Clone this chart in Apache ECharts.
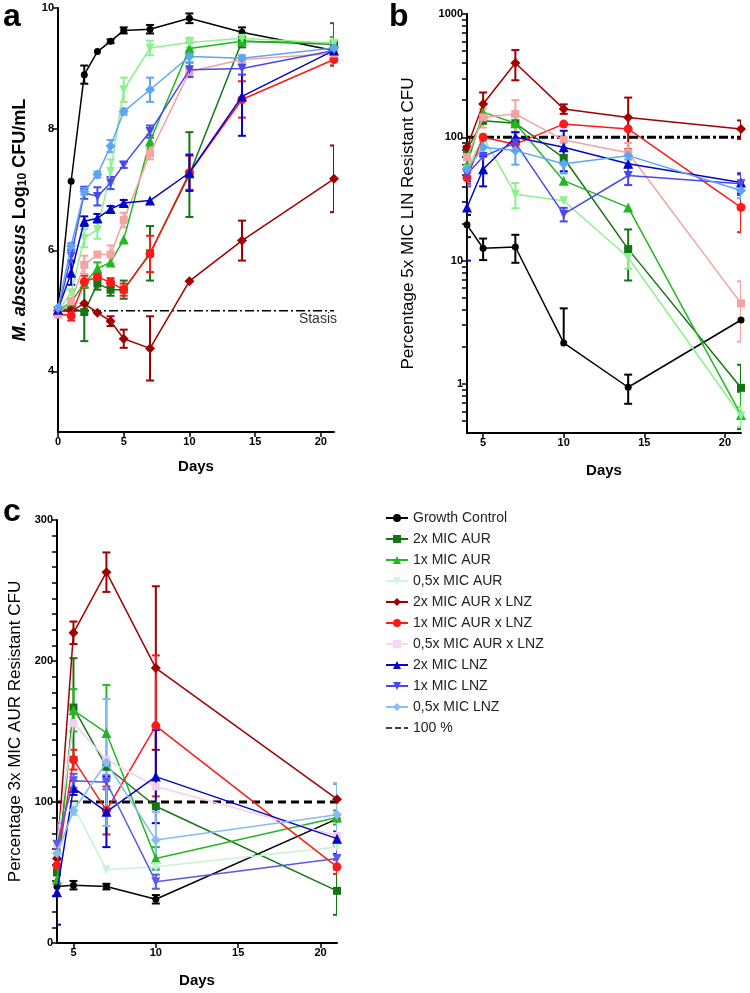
<!DOCTYPE html>
<html><head><meta charset="utf-8">
<script src="https://cdn.jsdelivr.net/npm/echarts@6/dist/echarts.min.js"></script>
<style>html,body{margin:0;padding:0;background:#fff}#c{width:750px;height:993px}</style>
</head><body><div id="c"></div>
<script>
// ---------- categories / names ----------
const seriesNames = ['Growth Control','2x MIC AUR','1x MIC AUR','0,5x MIC AUR','2x MIC AUR x LNZ','1x MIC AUR x LNZ','0,5x MIC AUR x LNZ','2x MIC LNZ','1x MIC LNZ','0,5x MIC LNZ'];
const refName = '100 %';

// ---------- panel a : log10 CFU/mL ----------
const daysA = [0,1,2,3,4,5,7,10,14,21];
const gcA      = [5.0, 7.14, 8.90, 9.28, 9.45, 9.63, 9.65, 9.83, 9.60, 9.30];
const aur2A    = [5.0, 5.05, 4.98, 5.45, 5.35, 5.35, 5.95, 7.25, 9.45, 9.40];
const aur1A    = [5.0, 5.15, 5.45, 5.70, 5.80, 6.18, 7.80, 9.33, 9.45, 9.42];
const aur05A   = [5.0, 5.30, 6.20, 6.34, 7.30, 8.65, 9.34, 9.43, 9.50, 9.42];
const combo2A  = [5.0, 5.00, 5.12, 4.97, 4.83, 4.54, 4.38, 5.49, 6.16, 7.18];
const combo1A  = [4.95, 4.92, 5.48, 5.56, 5.47, 5.35, 5.94, 7.28, 8.49, 9.15];
const combo05A = [4.94, 5.16, 5.76, 5.93, 5.93, 6.50, 7.60, 8.95, 9.15, 9.25];
const lnz2A    = [5.02, 5.63, 6.48, 6.53, 6.68, 6.78, 6.82, 7.28, 8.54, 9.30];
const lnz1A    = [5.0, 5.90, 6.95, 6.89, 7.11, 7.41, 7.96, 8.98, 9.00, 9.30];
const lnz05A   = [5.05, 6.07, 6.97, 7.25, 7.72, 8.29, 8.65, 9.20, 9.17, 9.34];
// error bars (± SD)
const gcAErr      = [0, 0, 0.15, 0, 0.03, 0.05, 0.07, 0.08, 0.08, 0.10];
const aur2AErr    = [0, 0, 0.48, 0.10, 0.10, 0.15, 0.45, 0.70, 0.10, 0.35];
const aur1AErr    = [0, 0, 0, 0.10, 0, 0, 0.10, 0.10, 0.05, 0.10];
const aur05AErr   = [0, 0, 0.15, 0.15, 0.20, 0.20, 0.12, 0.08, 0.05, 0.05];
const combo2AErr  = [0, 0, 0, 0, 0.08, 0.15, 0.53, 0, 0.33, 0.55];
const combo1AErr  = [0.05, 0.08, 0.10, 0.05, 0.07, 0.10, 0.30, 0.28, 0.30, 0.10];
const combo05AErr = [0, 0, 0.15, 0, 0.15, 0.12, 0.10, 0.05, 0.05, 0.05];
const lnz2AErr    = [0, 0.20, 0.08, 0.07, 0.05, 0.05, 0, 0.30, 0.65, 0.10];
const lnz1AErr    = [0, 0.10, 0.10, 0.15, 0.10, 0.05, 0.10, 0.12, 0.10, 0.05];
const lnz05AErr   = [0, 0.05, 0.05, 0.05, 0.10, 0.05, 0.20, 0.10, 0.05, 0.05];
const stasisA = [5, 5];
const stasisDays = [0, 21];
const yTicksA = [4, 6, 8, 10];
const xTicksA = [0, 5, 10, 15, 20];

// ---------- panel b : % 5x MIC LIN resistant (log) ----------
const daysB = [4,5,7,10,14,21];
const gcB      = [19.5, 12.6, 12.9, 2.15, 0.94, 3.3];
const aur2B    = [80, 136, 130, 68, 12.4, 0.93];
const aur1B    = [60, 160, 130, 44.5, 27, 0.56];
const aur05B   = [55, 100, 34.6, 30.6, 10.6, 0.55];
const combo2B  = [83, 186, 400, 170, 145, 117];
const combo1B  = [47, 100, 88, 128, 117, 27];
const combo05B = [69, 145, 155, 95, 75, 4.5];
const lnz2B    = [27, 55, 100, 83, 61, 43];
const lnz1B    = [50, 70, 90, 23.8, 49, 42];
const lnz05B   = [55, 83, 78, 61, 71, 37];
const gcBErr      = [4, 2.5, 3.3, 1.95, 0.25, 0];
const aur2BErr    = [10, 0, 20, 0, 5.5, 0.5];
const aur1BErr    = [0, 0, 0, 0, 0, 0.3];
const aur05BErr   = [0, 0, 8, 0, 2, 0.1];
const combo2BErr  = [0, 45, 110, 15, 65, 20];
const combo1BErr  = [5, 0, 10, 0, 0, 10];
const combo05BErr = [15, 25, 45, 0, 15, 2.3];
const lnz2BErr    = [17, 15, 10, 30, 0, 8];
const lnz1BErr    = [10, 0, 0, 3, 8, 8];
const lnz05BErr   = [10, 10, 18, 10, 5, 5];
const refB = [100, 100];
const refDays = [4, 21];
const yTicksB = [1, 10, 100, 1000];
const yMinorB = [0.5,0.6,0.7,0.8,0.9,2,3,4,5,6,7,8,9,20,30,40,50,60,70,80,90,200,300,400,500,600,700,800,900];
const xTicksBC = [5, 10, 15, 20];

// ---------- panel c : % 3x MIC AUR resistant ----------
const daysC = [4,5,7,10,21];
const gcC      = [40, 41, 40, 31, 88];
const aur2C    = [50, 167, 125, 97, 37];
const aur1C    = [45, 165, 149, 60, 89];
const aur05C   = [60, 97, 52, 54, 68];
const combo2C  = [60, 220, 263, 195, 102];
const combo1C  = [55, 130, 94, 154, 54];
const combo05C = [70, 156, 130, 111, 76];
const lnz2C    = [36, 110, 93, 118, 74];
const lnz1C    = [70, 115, 114, 43.5, 60];
const lnz05C   = [63.6, 94, 128, 73, 91];
const gcCErr      = [0, 3, 2, 3, 25];
const aur2CErr    = [0, 35, 0, 0, 17];
const aur1CErr    = [0, 15, 34, 8, 5];
const aur05CErr   = [0, 0, 0, 0, 0];
const combo2CErr  = [0, 8, 14, 58, 0];
const combo1CErr  = [0, 7, 17, 50, 5];
const combo05CErr = [0, 0, 0, 0, 0];
const lnz2CErr    = [23, 5, 25, 33, 5];
const lnz1CErr    = [15, 5, 5, 5, 8];
const lnz05CErr   = [10, 3, 45, 20, 22];
const refC = [100, 100];
const yTicksC = [0, 100, 200, 300];
// minor tick positions: 9 subdivisions per 100 (as on the original axis)
const yMinorC = [0, 100, 200].flatMap(b => [1,2,3,4,5,6,7,8].map(k => b + k * 100 / 9));

// ---------- styling ----------
const FONT = 'Liberation Sans, Arial, sans-serif';
const symDown = 'path://M0,0 L10,0 L5,9 Z';
const symbols = ['circle','rect','triangle',symDown,'diamond','circle','rect','triangle',symDown,'diamond'];
const symSizes = [7,8,10,9,10,9,8,10,9,10];
const colorsAB = ['#000000','#157515','#22b822','#8ef08e','#a00000','#ff1a1a','#f4a3a3','#0505c8','#4848ee','#5da6f5'];
const colorsC  = ['#000000','#157515','#22b822','#c6f3d6','#a00000','#ff1a1a','#f6cdf3','#0505c8','#5858ee','#86bcf2'];
const legendColors = ['#000000','#157515','#22b822','#d2f5e2','#a00000','#ff1a1a','#f8d6f8','#0505c8','#4848ee','#88bdf8'];

const valsA = [gcA,aur2A,aur1A,aur05A,combo2A,combo1A,combo05A,lnz2A,lnz1A,lnz05A];
const errsA = [gcAErr,aur2AErr,aur1AErr,aur05AErr,combo2AErr,combo1AErr,combo05AErr,lnz2AErr,lnz1AErr,lnz05AErr];
const valsB = [gcB,aur2B,aur1B,aur05B,combo2B,combo1B,combo05B,lnz2B,lnz1B,lnz05B];
const errsB = [gcBErr,aur2BErr,aur1BErr,aur05BErr,combo2BErr,combo1BErr,combo05BErr,lnz2BErr,lnz1BErr,lnz05BErr];
const valsC = [gcC,aur2C,aur1C,aur05C,combo2C,combo1C,combo05C,lnz2C,lnz1C,lnz05C];
const errsC = [gcCErr,aur2CErr,aur1CErr,aur05CErr,combo2CErr,combo1CErr,combo05CErr,lnz2CErr,lnz1CErr,lnz05CErr];

function makeErrRender(lowFloor) {
  return function (params, api) {
    const x = api.value(0), y = api.value(1), e = api.value(2);
    if (!e) return null;
    const color = api.visual('color');
    const hi = api.coord([x, y + e]);
    const mid = api.coord([x, y]);
    const lo = (y - e) > lowFloor ? api.coord([x, y - e]) : null;
    const cw = 4;
    const st = {stroke: color, lineWidth: 2};
    const ch = [
      {type:'line', shape:{x1:hi[0], y1:hi[1], x2:mid[0], y2:mid[1]}, style:st},
      {type:'line', shape:{x1:hi[0]-cw, y1:hi[1], x2:hi[0]+cw, y2:hi[1]}, style:st}
    ];
    if (lo) {
      ch.push({type:'line', shape:{x1:mid[0], y1:mid[1], x2:lo[0], y2:lo[1]}, style:st});
      ch.push({type:'line', shape:{x1:lo[0]-cw, y1:lo[1], x2:lo[0]+cw, y2:lo[1]}, style:st});
    }
    return {type:'group', children: ch};
  };
}

const series = [];
function addPanel(days, vals, errs, colors, xi, yi, lowFloor) {
  vals.forEach((v, i) => {
    series.push({
      type:'custom', name: seriesNames[i] + ' (err' + xi + ')', xAxisIndex:xi, yAxisIndex:yi,
      data: days.map((d, k) => [d, v[k], errs[i][k]]),
      encode:{x:0, y:1}, renderItem: makeErrRender(lowFloor), itemStyle:{color: colors[i]},
      clip:true, silent:true, z: 2 + i * 0.1, animation:false
    });
    series.push({
      type:'line', name: seriesNames[i], xAxisIndex:xi, yAxisIndex:yi,
      data: days.map((d, k) => [d, v[k]]),
      symbol: symbols[i], symbolSize: symSizes[i], showSymbol:true, showAllSymbol:true,
      itemStyle:{color: colors[i]}, lineStyle:{color: colors[i], width:1.5},
      z: 3 + i * 0.1, animation:false, emphasis:{disabled:true}
    });
  });
}
addPanel(daysA, valsA, errsA, colorsAB, 0, 0, -1e9);
addPanel(daysB, valsB, errsB, colorsAB, 1, 1, 0.4);
addPanel(daysC, valsC, errsC, colorsC, 2, 2, -1e9);

series.push({type:'line', name:'Stasis', xAxisIndex:0, yAxisIndex:0,
  data: stasisDays.map((d,k)=>[d, stasisA[k]]), symbol:'none',
  lineStyle:{color:'#000', width:1.5, type:[9,3,2,3]}, z:1, animation:false, silent:true});
series.push({type:'line', name:'100 % b', xAxisIndex:1, yAxisIndex:1,
  data: refDays.map((d,k)=>[d, refB[k]]), symbol:'none',
  lineStyle:{color:'#000', width:3, type:[9,3,3,3]}, z:1, animation:false, silent:true});
series.push({type:'line', name: refName, xAxisIndex:2, yAxisIndex:2,
  data: refDays.map((d,k)=>[d, refC[k]]), symbol:'none', itemStyle:{color:'#000'},
  lineStyle:{color:'#000', width:3, type:[8,5]}, z:1, animation:false, silent:true});

const axLine = {show:true, onZero:false, lineStyle:{color:'#000', width:2}};
const axTick = {show:true, length:5, lineStyle:{color:'#000', width:1.5}};
const axLabel = {color:'#000', fontWeight:'bold', fontSize:11, fontFamily:FONT, margin:4};
const nameStyle = {color:'#000', fontWeight:'bold', fontSize:15, fontFamily:FONT};
const dashIcon = 'path://M0,0h0.01v0.01h-0.01z M0,9.99h0.01v0.01h-0.01z M0,4.2h6v1.6h-6z M9,4.2h6v1.6h-6z M18,4.2h4v1.6h-4z';

const option = {
  animation:false,
  backgroundColor:'#fff',
  grid:[
    {left:58, top:8, width:276, height:424},
    {left:467, top:14, width:274, height:419},
    {left:57, top:520, width:280, height:423}
  ],
  xAxis:[
    {type:'value', gridIndex:0, min:0, max:21, axisLine:axLine,
     axisTick:Object.assign({}, axTick, {customValues:xTicksA}),
     axisLabel:Object.assign({}, axLabel, {customValues:xTicksA}), splitLine:{show:false},
     name:'Days', nameLocation:'middle', nameGap:27, nameTextStyle:nameStyle},
    {type:'value', gridIndex:1, min:4, max:21, axisLine:axLine,
     axisTick:Object.assign({}, axTick, {customValues:xTicksBC}),
     axisLabel:Object.assign({}, axLabel, {customValues:xTicksBC}), splitLine:{show:false},
     name:'Days', nameLocation:'middle', nameGap:30, nameTextStyle:nameStyle},
    {type:'value', gridIndex:2, min:4, max:21, axisLine:axLine,
     axisTick:Object.assign({}, axTick, {customValues:xTicksBC}),
     axisLabel:Object.assign({}, axLabel, {customValues:xTicksBC}), splitLine:{show:false},
     name:'Days', nameLocation:'middle', nameGap:30, nameTextStyle:nameStyle}
  ],
  yAxis:[
    {type:'value', gridIndex:0, min:3, max:10, axisLine:axLine,
     axisTick:Object.assign({}, axTick, {customValues:yTicksA}),
     axisLabel:Object.assign({}, axLabel, {customValues:yTicksA}), splitLine:{show:false},
     name:'{i|M. abscessus} Log{s|10} CFU/mL', nameLocation:'middle', nameRotate:90, nameGap:29,
     nameTextStyle:Object.assign({}, nameStyle, {fontSize:18, rich:{
       i:{fontStyle:'italic', fontWeight:'bold', fontSize:18, fontFamily:FONT, color:'#000'},
       s:{fontWeight:'bold', fontSize:12, fontFamily:FONT, color:'#000', verticalAlign:'bottom'}
     }})},
    {type:'log', logBase:10, gridIndex:1, min:0.4, max:1000, axisLine:axLine,
     axisTick:Object.assign({}, axTick, {length:5, customValues:yTicksB.concat(yMinorB)}),
     axisLabel:Object.assign({}, axLabel, {customValues:yTicksB, formatter: v => String(v)}), splitLine:{show:false},
     name:'Percentage 5x MIC LIN Resistant CFU', nameLocation:'middle', nameRotate:90, nameGap:50,
     nameTextStyle:Object.assign({}, nameStyle, {fontWeight:'normal', fontSize:17})},
    {type:'value', gridIndex:2, min:0, max:300, axisLine:axLine,
     axisTick:Object.assign({}, axTick, {length:5, customValues:yTicksC.concat(yMinorC)}),
     axisLabel:Object.assign({}, axLabel, {customValues:yTicksC}), splitLine:{show:false},
     name:'Percentage 3x MIC AUR Resistant CFU', nameLocation:'middle', nameRotate:90, nameGap:33,
     nameTextStyle:Object.assign({}, nameStyle, {fontWeight:'normal', fontSize:17})}
  ],
  legend:{
    orient:'vertical', left:380, top:506, itemWidth:22, itemHeight:10, itemGap:7,
    textStyle:{fontSize:14, color:'#222', fontFamily:FONT},
    selectedMode:false,
    data: seriesNames.map((n, i) => ({name:n, itemStyle:{color:legendColors[i]}, lineStyle:{color:legendColors[i], width:2}}))
          .concat([{name: refName, icon: dashIcon, itemStyle:{color:'#000'}}])
  },
  graphic:[
    {type:'text', x:3, y:33, style:{text:'a', font:'bold 32px ' + FONT, fill:'#000', verticalAlign:'bottom'}},
    {type:'text', x:389, y:33, style:{text:'b', font:'bold 32px ' + FONT, fill:'#000', verticalAlign:'bottom'}},
    {type:'text', x:3, y:528, style:{text:'c', font:'bold 32px ' + FONT, fill:'#000', verticalAlign:'bottom'}},
    {type:'text', x:337, y:312, style:{text:'Stasis', font:'14px ' + FONT, fill:'#333', align:'right', verticalAlign:'top'}}
  ],
  series: series
};
const chart = echarts.init(document.getElementById('c'), null, {renderer:'canvas'});
chart.setOption(option);
</script></body></html>
